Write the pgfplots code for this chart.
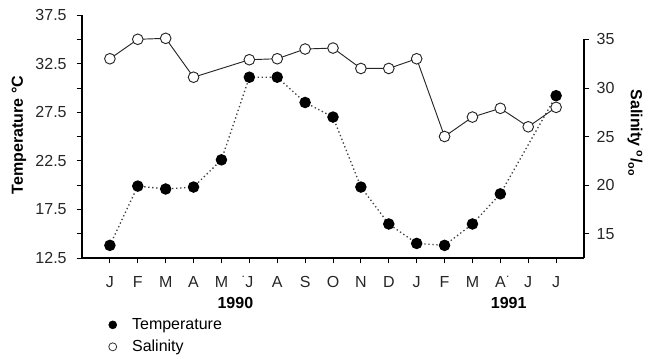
\documentclass[border=0pt]{standalone}
\usepackage{fontspec}
\setmainfont{Liberation Sans}
\usepackage{pgfplots}
\pgfplotsset{compat=1.18}
\newcommand{\dotl}{\makebox[0pt][r]{\raisebox{0.6em}{\small .}\hspace{0.3pt}}}
\newcommand{\dotr}{\makebox[0pt][l]{\hspace{0.3pt}\raisebox{0.6em}{\small .}}}
\begin{document}
\begin{tikzpicture}
\useasboundingbox (-61.5pt,-75pt) rectangle (427.5pt,193.5pt);
\begin{axis}[
  scale only axis, width=376.5pt, height=182.25pt,
  xmin=-1, xmax=17, ymin=12.5, ymax=37.5,
  axis x line*=bottom, axis y line*=left,
  axis line style={black, line width=0.8pt},
  tick align=outside, major tick length=4pt, minor tick length=4pt,
  tick style={black, line width=0.6pt},
  xtick={0,...,16},
  xticklabels={J,F,M,A,M,\dotl J,A,S,O,N,D,J,F,M,A\dotr,J,J},
  ytick={12.5,17.5,22.5,27.5,32.5,37.5},
  yticklabels={12.5,17.5,22.5,27.5,32.5,37.5},
  minor ytick={15,20,25,30,35},
  tick label style={font=\fontsize{12}{14}\selectfont, text=black!85},
  yticklabel style={xshift=-4pt},
  xticklabel style={yshift=-6pt},
  ylabel={Temperature °C},
  every axis y label/.style={at={(axis description cs:-0.1255,0.506)}, rotate=90, anchor=center, font=\fontsize{12}{14}\selectfont\bfseries},
  clip=false,
  legend cell align=left,
  legend style={at={(axis description cs:0.044,-0.228)}, anchor=north west, draw=none, fill=none,
    font=\fontsize{12}{14}\selectfont, row sep=3.5pt, nodes={inner sep=1.5pt}},
]
\addlegendimage{legend image code/.code={\fill[black] (0pt,0pt) circle (3pt); \path[draw=none, fill=none] (-3pt,-3pt) rectangle (13pt,3pt);}}
\addlegendentry{Temperature}
\addlegendimage{legend image code/.code={\draw[black!80, line width=0.6pt, fill=white] (0pt,0pt) circle (3pt); \path[draw=none, fill=none] (-3pt,-3pt) rectangle (13pt,3pt);}}
\addlegendentry{Salinity}
\addplot[black!75, line width=1pt, dash pattern=on 1pt off 2pt,
  mark=*, mark size=3.8pt, mark options={solid, fill=black, draw=black}, forget plot]
  coordinates {(0,13.8) (1,19.9) (2,19.6) (3,19.8) (4,22.6) (5,31.1) (6,31.1) (7,28.5) (8,27.0) (9,19.8) (10,16.0) (11,14.0) (12,13.8) (13,16.0) (14,19.1) (16,29.2)};
\addplot[black!85, line width=0.7pt, solid,
  mark=*, mark size=4pt, mark options={fill=white, draw=black!85, line width=0.7pt}, forget plot]
  coordinates {(0,33.0) (1,35.0) (2,35.1) (3,31.1) (5,32.9) (6,33.0) (7,34.0) (8,34.1) (9,32.0) (10,32.0) (11,33.0) (12,25.0) (13,27.0) (14,27.9) (15,26.0) (16,28.0)};
\node[font=\fontsize{12}{14}\selectfont\bfseries, anchor=center] at (axis cs:4.5,12.5) [yshift=-33.75pt] {1990};
\node[font=\fontsize{12}{14}\selectfont\bfseries, anchor=center] at (axis cs:14.3,12.5) [yshift=-33.75pt] {1991};
\end{axis}
\begin{axis}[
  scale only axis, width=376.5pt, height=164.025pt,
  xmin=-1, xmax=17, ymin=12.5, ymax=35,
  axis x line=none, axis y line*=right,
  axis line style={black, line width=0.8pt},
  tick align=outside, major tick length=4pt,
  tick style={black, line width=0.6pt},
  ytick={15,20,25,30,35}, yticklabels={15,20,25,30,35},
  tick label style={font=\fontsize{12}{14}\selectfont, text=black!85},
  yticklabel style={xshift=2pt},
  ylabel={Salinity \textsuperscript{o}/\textsubscript{oo}},
  every axis y label/.style={at={(axis description cs:1.1016,0.572)}, rotate=-90, anchor=center, font=\fontsize{12}{14}\selectfont\bfseries},
]
\end{axis}
\end{tikzpicture}
\end{document}
